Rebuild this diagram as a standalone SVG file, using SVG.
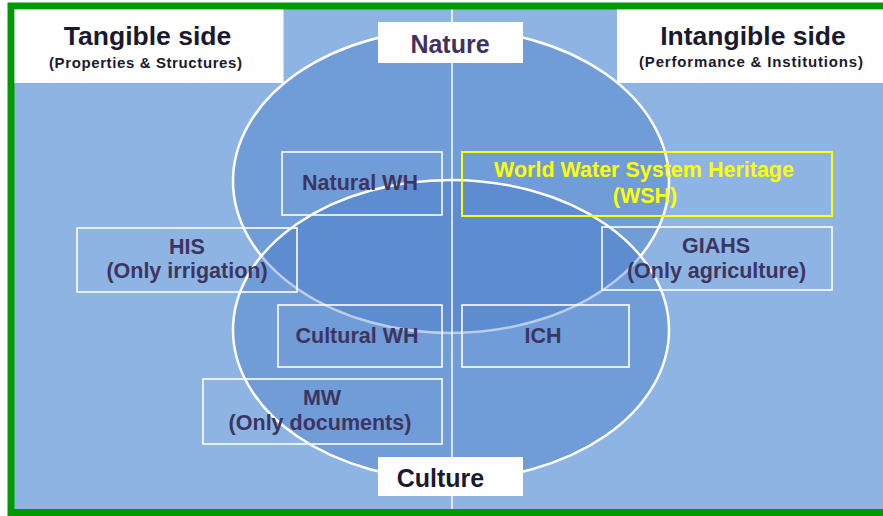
<svg xmlns="http://www.w3.org/2000/svg" width="883" height="516" viewBox="0 0 883 516">
<style>
.lbl{font-family:"Liberation Sans",Arial,sans-serif;font-weight:bold;font-size:21.5px;fill:#3D3561;text-anchor:middle}
.ylbl{font-family:"Liberation Sans",Arial,sans-serif;font-weight:bold;font-size:21.5px;fill:#FFFF00;text-anchor:middle}
.box{fill:none;stroke:#FFFFFF;stroke-width:1.6}
.wbox{fill:#FFFFFF;stroke:none}
.title{font-family:"Liberation Sans",Arial,sans-serif;font-weight:bold;font-size:26.5px;fill:#1A1A2E;text-anchor:middle}
.sub{font-family:"Liberation Sans",Arial,sans-serif;font-weight:bold;font-size:15px;fill:#1A1A2E;text-anchor:middle}
.big{font-family:"Liberation Sans",Arial,sans-serif;font-weight:bold;font-size:25px;text-anchor:middle}
.ell{fill:#3A6FC4;fill-opacity:0.35;stroke:#FFFFFF;stroke-width:2.5}
</style>
<rect x="0" y="0" width="883" height="516" fill="#FFFFFF"/>
<rect x="11" y="6" width="885" height="506.5" fill="#8EB4E3" stroke="#009900" stroke-width="7"/>
<g id="connectors">
<ellipse id="nature-ellipse" class="ell" cx="451" cy="181" rx="218" ry="152"/>
<ellipse id="culture-ellipse" class="ell" cx="451" cy="330" rx="218" ry="150"/>
<line x1="452" y1="9.5" x2="452" y2="509" stroke="#FFFFFF" stroke-width="1.5"/>
</g>
<g id="tangible">
<rect class="wbox" x="14.5" y="9.5" width="269" height="73.5"/>
<text class="title" x="147.5" y="44.5">Tangible side</text>
<text class="sub" x="145.5" y="67.5" textLength="193" lengthAdjust="spacing">(Properties &amp; Structures)</text>
</g>
<g id="intangible">
<rect class="wbox" x="617" y="9.5" width="266" height="73.5"/>
<text class="title" x="753" y="44.5">Intangible side</text>
<text class="sub" x="751" y="67" textLength="224" lengthAdjust="spacing">(Performance &amp; Institutions)</text>
</g>
<g id="nature">
<rect class="wbox" x="378" y="22" width="145" height="41"/>
<text class="big" x="450" y="52.5" fill="#3F3160">Nature</text>
</g>
<g id="culture">
<rect class="wbox" x="378" y="457" width="145" height="39"/>
<text class="big" x="440.5" y="486.5" fill="#1A1A33">Culture</text>
</g>
<g id="natural-wh">
<rect class="box" x="282" y="152" width="160" height="63"/>
<text class="lbl" x="360" y="190">Natural WH</text>
</g>
<g id="wsh">
<rect x="462" y="152" width="370" height="64" fill="none" stroke="#FFFF00" stroke-width="2"/>
<text class="ylbl" x="644" y="177">World Water System Heritage</text>
<text class="ylbl" x="645" y="203">(WSH)</text>
</g>
<g id="his">
<rect class="box" x="77" y="228" width="220" height="64"/>
<text class="lbl" x="187" y="254">HIS</text>
<text class="lbl" x="187" y="278">(Only irrigation)</text>
</g>
<g id="giahs">
<rect class="box" x="602" y="227" width="230" height="63"/>
<text class="lbl" x="716" y="253">GIAHS</text>
<text class="lbl" x="716.5" y="278">(Only agriculture)</text>
</g>
<g id="cultural-wh">
<rect class="box" x="278" y="305" width="164" height="62"/>
<text class="lbl" x="357" y="343">Cultural WH</text>
</g>
<g id="ich">
<rect class="box" x="462" y="305" width="167" height="62"/>
<text class="lbl" x="543" y="343">ICH</text>
</g>
<g id="mw">
<rect class="box" x="203" y="379" width="239" height="65"/>
<text class="lbl" x="322" y="405">MW</text>
<text class="lbl" x="320" y="430">(Only documents)</text>
</g>
</svg>
